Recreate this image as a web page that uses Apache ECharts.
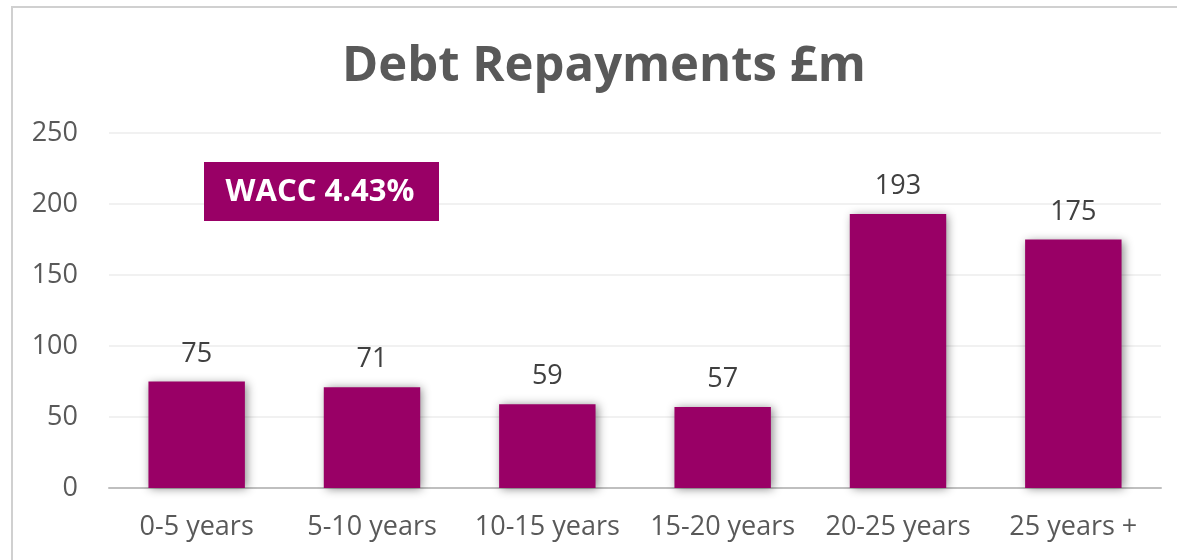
<!DOCTYPE html>
<html>
<head>
<meta charset="utf-8">
<script src="https://cdn.jsdelivr.net/npm/echarts@6/dist/echarts.min.js"></script>
<style>
  html, body { margin: 0; padding: 0; background: #fff; }
  #chart { width: 1177px; height: 560px; }
</style>
</head>
<body>
<div id="chart"></div>
<script>
// data
var categories = ['0-5 years', '5-10 years', '10-15 years', '15-20 years', '20-25 years', '25 years +'];
var repayments = [75, 71, 59, 57, 193, 175];
var titleText = 'Debt Repayments £m';
var waccText = 'WACC 4.43%';

var font = '"Open Sans", sans-serif';

var myChart = echarts.init(document.getElementById('chart'));
var option = {
  backgroundColor: '#fff',
  animation: false,
  title: {
    text: titleText,
    left: 337,
    top: 38,
    textStyle: {
      fontFamily: font,
      fontSize: 49,
      fontWeight: 'bold',
      color: '#595959'
    }
  },
  grid: {
    left: 109,
    right: 16,
    top: 133,
    bottom: 72
  },
  xAxis: {
    type: 'category',
    data: categories,
    axisTick: { show: false },
    axisLine: { lineStyle: { color: '#bfbfbf', width: 2 } },
    axisLabel: {
      interval: 0,
      fontFamily: font,
      fontSize: 27,
      color: '#595959',
      margin: 26
    }
  },
  yAxis: {
    type: 'value',
    min: 0,
    max: 250,
    interval: 50,
    axisLine: { show: false },
    axisTick: { show: false },
    splitLine: { lineStyle: { color: '#ececec', width: 1.5 } },
    axisLabel: {
      fontFamily: font,
      fontSize: 27,
      color: '#595959',
      margin: 31
    }
  },
  series: [
    {
      type: 'bar',
      name: 'Debt repayments',
      data: repayments,
      barWidth: '55%',
      itemStyle: {
        color: '#990066',
        shadowBlur: 9,
        shadowColor: 'rgba(0,0,0,0.45)',
        shadowOffsetX: 2,
        shadowOffsetY: 1
      },
      label: {
        show: true,
        position: 'top',
        distance: 14,
        fontFamily: font,
        fontSize: 27,
        color: '#404040'
      }
    }
  ],
  graphic: [
    {
      type: 'rect',
      x: 12,
      y: 7,
      shape: { width: 1200, height: 600 },
      style: { fill: 'none', stroke: '#d0d0d0', lineWidth: 2 },
      silent: true,
      z: 100
    },
    {
      type: 'rect',
      x: 204,
      y: 162,
      shape: { width: 235, height: 59 },
      style: { fill: '#990066' },
      z: 100
    },
    {
      type: 'text',
      x: 320,
      y: 192,
      z: 101,
      style: {
        text: waccText,
        fill: '#fff',
        font: 'bold 31px "Open Sans", sans-serif',
        textAlign: 'center',
        textVerticalAlign: 'middle'
      }
    }
  ]
};
myChart.setOption(option);
window.onresize = function () {
  myChart.resize();
};
</script>
</body>
</html>
